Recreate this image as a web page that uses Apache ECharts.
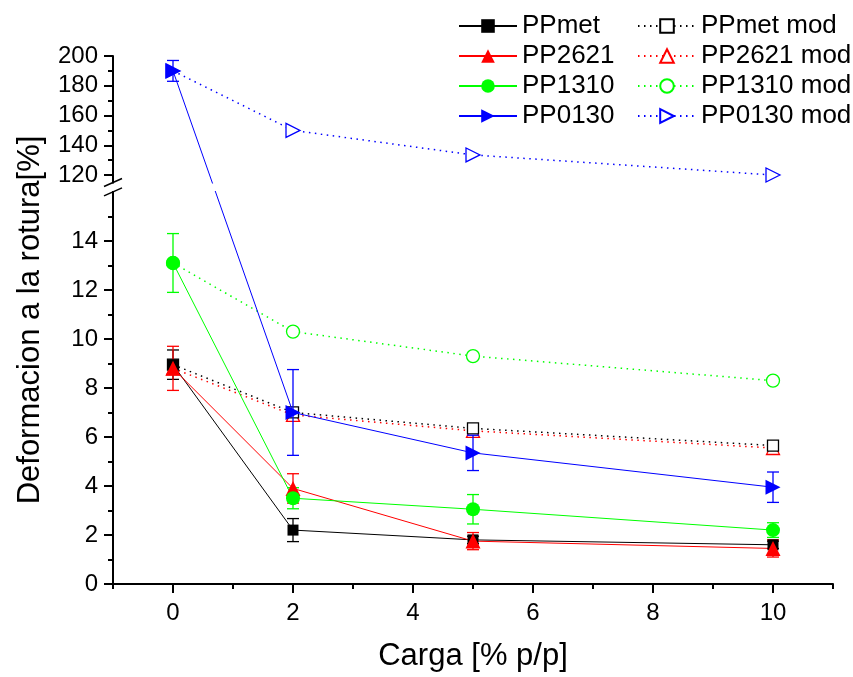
<!DOCTYPE html>
<html><head><meta charset="utf-8">
<script src="https://cdn.jsdelivr.net/npm/echarts@6/dist/echarts.min.js"></script>
<style>html,body{margin:0;padding:0;background:#fff}#c{width:853px;height:677px}</style>
</head><body><div id="c"></div>
<script>
// ---- data ----
const xValues = [0, 2, 5, 10];
const xTickLabels = [0, 2, 4, 6, 8, 10];
const xMinorTicks = [-1, 1, 3, 5, 7, 9, 11];
const yTicksLow = [0, 2, 4, 6, 8, 10, 12, 14];
const yMinorLow = [1, 3, 5, 7, 9, 11, 13, 15];
const yTicksHigh = [120, 140, 160, 180, 200];
const yMinorHigh = [130, 150, 170, 190];

const ppmet = [8.95, 2.2, 1.8, 1.6];
const ppmetErr = [0.6, 0.47, 0.15, 0.15];
const pp2621 = [8.8, 3.9, 1.75, 1.45];
const pp2621Err = [0.9, 0.6, 0.35, 0.35];
const pp1310 = [13.1, 3.5, 3.05, 2.2];
const pp1310Err = [1.2, 0.43, 0.6, 0.3];
const pp0130 = [190, 7.0, 5.35, 3.95];
const pp0130Err = [7, 1.75, 0.72, 0.62];
const ppmetMod = [8.95, 7.0, 6.35, 5.65];
const pp2621Mod = [8.8, 6.9, 6.25, 5.55];
const pp1310Mod = [13.1, 10.3, 9.3, 8.3];
const pp0130Mod = [190, 150, 133.5, 120];

// ---- broken axis scale ----
const LOW_TOP = 16, UP_BOTTOM = 115, UP_TOP = 200;
const UP_START = 16.386, UP_SCALE = 0.06071;
function tf(v) { return v <= LOW_TOP ? v : UP_START + (v - UP_BOTTOM) * UP_SCALE; }
function inv(t) { return t <= LOW_TOP + 1e-9 ? t : UP_BOTTOM + (t - UP_START) / UP_SCALE; }
const Y_MAX = tf(UP_TOP);

const FONT = "'Liberation Sans', Arial, sans-serif";
const AX = { color: '#000', width: 2 };

function line(name, vals, color, symbol, size, rotate, dotted) {
  return {
    type: 'line', name, xAxisIndex: 0, yAxisIndex: 0,
    data: xValues.map((x, i) => [x, tf(vals[i])]),
    symbol, symbolSize: size, symbolRotate: rotate, showSymbol: true,
    lineStyle: { color, width: dotted ? 1.5 : 1, type: dotted ? [1.5, 4.5] : 'solid' },
    itemStyle: dotted ? { color: '#fff', borderColor: color, borderWidth: 1.3 } : { color, borderWidth: 0 },
    z: dotted ? 2 : 4, animation: false, clip: false
  };
}
function errBars(vals, errs, color) {
  return {
    type: 'custom', xAxisIndex: 0, yAxisIndex: 0, silent: true, z: 3, animation: false,
    encode: { x: 0, y: [1, 2] },
    data: xValues.map((x, i) => [x, tf(vals[i] - errs[i]), tf(vals[i] + errs[i])]),
    renderItem(params, api) {
      const lo = api.coord([api.value(0), api.value(1)]);
      const hi = api.coord([api.value(0), api.value(2)]);
      const hw = 6, st = { stroke: color, lineWidth: 1.3 };
      return { type: 'group', children: [
        { type: 'line', shape: { x1: lo[0], y1: lo[1], x2: hi[0], y2: hi[1] }, style: st },
        { type: 'line', shape: { x1: lo[0] - hw, y1: lo[1], x2: lo[0] + hw, y2: lo[1] }, style: st },
        { type: 'line', shape: { x1: hi[0] - hw, y1: hi[1], x2: hi[0] + hw, y2: hi[1] }, style: st }
      ] };
    }
  };
}

const majorY = yTicksLow.concat(yTicksHigh).map(tf);
const minorY = yMinorLow.concat(yMinorHigh).map(tf);

const legendBase = {
  orient: 'vertical', top: 13, itemWidth: 58, itemHeight: 17, itemGap: 4, padding: 0,
  selectedMode: false, textStyle: { fontSize: 26, color: '#000', fontFamily: FONT, lineHeight: 24 }
};

const option = {
  backgroundColor: '#fff',
  animation: false,
  grid: { left: 113, right: 20, top: 56, bottom: 93, containLabel: false },
  legend: [
    Object.assign({ left: 458, data: ['PPmet', 'PP2621', 'PP1310', 'PP0130'] }, legendBase),
    Object.assign({ left: 637, data: ['PPmet mod', 'PP2621 mod', 'PP1310 mod', 'PP0130 mod'] }, legendBase)
  ],
  xAxis: [
    { type: 'value', min: -1, max: 11, position: 'bottom',
      axisLine: { show: true, onZero: false, lineStyle: AX },
      axisTick: { show: true, customValues: xTickLabels, length: 9, lineStyle: AX },
      axisLabel: { customValues: xTickLabels, fontSize: 24, color: '#000', margin: 17, fontFamily: FONT },
      splitLine: { show: false },
      name: 'Carga [% p/p]', nameLocation: 'middle', nameGap: 57,
      nameTextStyle: { fontSize: 31, color: '#000', fontFamily: FONT } },
    { type: 'value', min: -1, max: 11, position: 'bottom', offset: 0,
      axisLine: { show: false, onZero: false }, axisLabel: { show: false }, splitLine: { show: false },
      axisTick: { show: true, customValues: xMinorTicks, length: 5, lineStyle: AX } }
  ],
  yAxis: [
    { type: 'value', min: 0, max: Y_MAX, position: 'left',
      axisLine: { show: true, onZero: false, lineStyle: AX },
      axisTick: { show: true, customValues: majorY, length: 9, lineStyle: AX },
      axisLabel: { customValues: majorY, formatter: v => String(Math.round(inv(v))),
        fontSize: 24, color: '#000', margin: 15, fontFamily: FONT },
      splitLine: { show: false },
      name: 'Deformacion a la rotura[%]', nameLocation: 'middle', nameGap: 67, nameRotate: 90,
      nameTextStyle: { fontSize: 31, color: '#000', fontFamily: FONT } },
    { type: 'value', min: 0, max: Y_MAX, position: 'left', offset: 0,
      axisLine: { show: false, onZero: false }, axisLabel: { show: false }, splitLine: { show: false },
      axisTick: { show: true, customValues: minorY, length: 5, lineStyle: AX } }
  ],
  series: [
    line('PP2621 mod', pp2621Mod, '#FF0000', 'triangle', 13, 0, true),
    line('PPmet mod', ppmetMod, '#000000', 'rect', 11, 0, true),
    line('PP1310 mod', pp1310Mod, '#00FF00', 'circle', 13, 0, true),
    line('PP0130 mod', pp0130Mod, '#0000FF', 'triangle', 14, -90, true),
    errBars(ppmet, ppmetErr, '#000000'),
    errBars(pp2621, pp2621Err, '#FF0000'),
    errBars(pp1310, pp1310Err, '#00FF00'),
    errBars(pp0130, pp0130Err, '#0000FF'),
    line('PPmet', ppmet, '#000000', 'rect', 11, 0, false),
    line('PP2621', pp2621, '#FF0000', 'triangle', 15, 0, false),
    line('PP1310', pp1310, '#00FF00', 'circle', 14, 0, false),
    line('PP0130', pp0130, '#0000FF', 'triangle', 15, -90, false)
  ]
};

const chart = echarts.init(document.getElementById('c'), null, { renderer: 'canvas' });
chart.setOption(option);

// axis break decoration
const pUp = chart.convertToPixel({ xAxisIndex: 0, yAxisIndex: 0 }, [-1, tf(UP_BOTTOM)]);
const pLow = chart.convertToPixel({ xAxisIndex: 0, yAxisIndex: 0 }, [-1, LOW_TOP]);
const pRight = chart.convertToPixel({ xAxisIndex: 0, yAxisIndex: 0 }, [11, 0]);
const bx = pUp[0];
chart.setOption({
  graphic: [
    { type: 'rect', z: 100, silent: true,
      shape: { x: bx - 12, y: pUp[1] + 1, width: pRight[0] - bx + 14, height: pLow[1] - pUp[1] - 2 },
      style: { fill: '#fff' } },
    { type: 'line', z: 101, silent: true,
      shape: { x1: bx - 9, y1: pUp[1] + 4, x2: bx + 9, y2: pUp[1] - 4 },
      style: { stroke: '#000', lineWidth: 1.5 } },
    { type: 'line', z: 101, silent: true,
      shape: { x1: bx - 9, y1: pLow[1] + 4, x2: bx + 9, y2: pLow[1] - 4 },
      style: { stroke: '#000', lineWidth: 1.5 } }
  ]
});
</script>
</body></html>
